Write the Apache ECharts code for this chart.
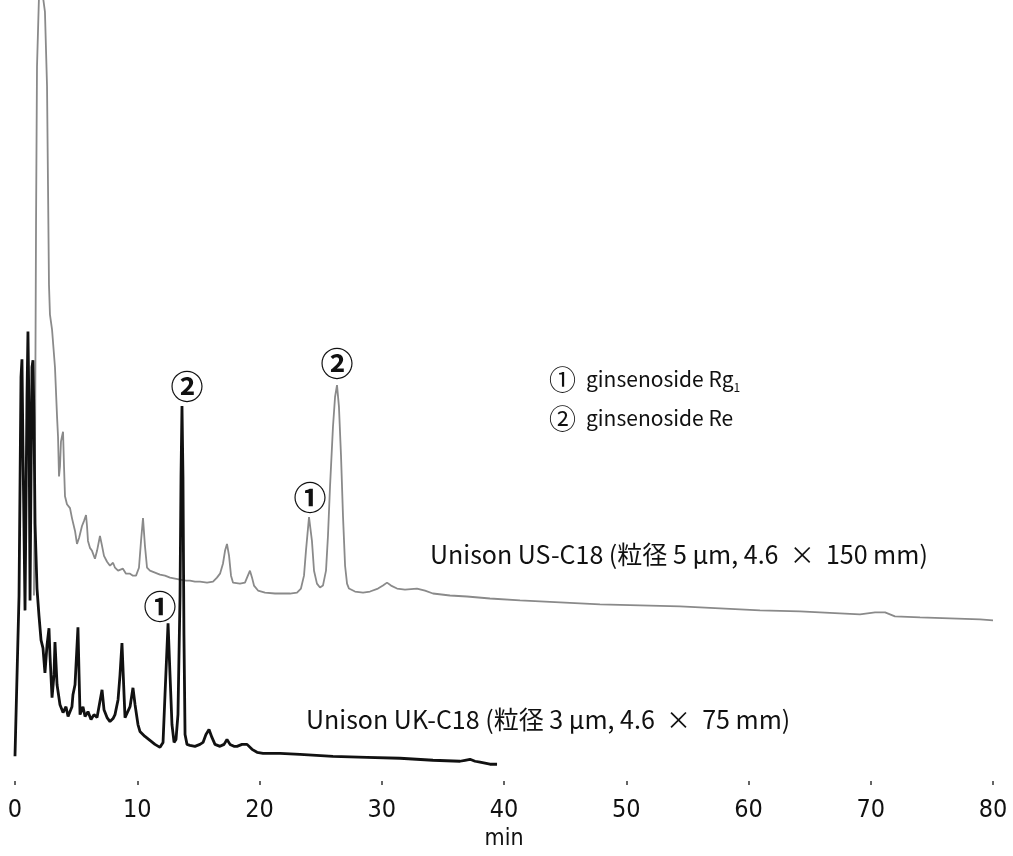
<!DOCTYPE html>
<html>
<head>
<meta charset="utf-8">
<script src="https://cdn.jsdelivr.net/npm/echarts@6/dist/echarts.min.js"></script>
<style>
html,body{margin:0;padding:0;background:#fff;}
#chart{width:1013px;height:856px;}
</style>
</head>
<body>
<div id="chart"></div>
<script>
// ---- data (time in min, signal in arbitrary units) ----
const xTicks = [0, 10, 20, 30, 40, 50, 60, 70, 80];

// Unison UK-C18 (black trace)
const ukTime = [0.00,0.16,0.33,0.49,0.57,0.65,0.82,0.98,1.06,1.15,1.23,1.31,1.39,1.47,1.55,1.64,1.72,1.80,1.96,2.13,2.29,2.45,2.62,2.78,2.86,3.03,3.19,3.27,3.44,3.68,3.93,4.17,4.34,4.50,4.66,4.74,4.91,5.15,5.24,5.32,5.56,5.73,5.97,6.22,6.46,6.71,6.87,7.12,7.28,7.53,7.77,8.02,8.18,8.43,8.59,8.75,8.92,9.00,9.16,9.41,9.65,9.82,10.06,10.22,10.63,11.04,11.45,11.86,12.11,12.27,12.52,12.68,12.84,13.01,13.17,13.33,13.50,13.58,13.66,13.74,13.82,13.91,14.07,14.31,14.72,15.13,15.38,15.62,15.87,16.11,16.36,16.77,17.10,17.34,17.59,17.91,18.16,18.57,18.98,19.39,19.80,20.29,21.68,23.31,26.01,28.79,31.49,34.19,36.40,36.81,37.22,37.63,38.04,38.85,39.43];
const ukSignal = [25,25,187,407,425,337,172,387,453,367,182,307,417,424,367,259,227,194,167,142,134,109,137,154,127,84,107,140,97,77,69,75,65,64,75,87,97,155,107,67,75,65,70,62,67,64,75,92,72,64,60,63,67,82,107,139,87,64,65,75,94,77,57,50,45,41,37,34,39,87,159,107,57,39,42,67,187,307,378,307,147,47,37,36,35,37,39,47,52,44,37,35,37,42,37,35,35,37,37,32,29,28,28,27,25,24,23,21,20,21,22,20,19,17,17];

// Unison US-C18 (grey trace)
const usTime = [1.55,1.64,1.72,1.80,1.96,2.13,2.29,2.45,2.62,2.70,2.78,2.86,3.03,3.27,3.44,3.52,3.60,3.68,3.76,3.84,3.93,4.01,4.09,4.25,4.50,4.66,4.91,5.07,5.24,5.48,5.64,5.81,5.89,5.97,6.13,6.30,6.54,6.71,6.95,7.12,7.28,7.53,7.77,8.02,8.18,8.43,8.59,8.83,9.08,9.41,9.65,9.90,10.14,10.31,10.47,10.63,10.80,11.04,11.45,11.86,12.27,12.68,13.09,13.50,13.99,14.31,14.72,15.13,15.71,16.20,16.52,16.77,17.01,17.18,17.34,17.51,17.67,17.83,18.40,18.81,18.98,19.22,19.39,19.55,19.88,20.45,21.27,22.49,23.07,23.39,23.64,23.80,24.05,24.29,24.46,24.70,24.95,25.19,25.44,25.60,25.77,26.01,26.18,26.34,26.50,26.67,26.83,27.00,27.16,27.32,27.81,28.47,29.04,29.69,30.10,30.43,30.76,31.25,31.90,32.88,33.54,34.19,35.58,36.97,38.85,41.31,44.58,47.85,51.12,54.40,57.67,60.94,64.21,67.48,69.12,70.35,71.17,71.98,74.03,76.48,78.94,80.00];
const usSignal = [187,330,560,720,790,800,790,775,700,600,500,470,455,417,367,347,307,317,342,347,352,317,287,279,275,265,252,239,245,257,262,268,257,242,235,232,224,232,247,237,227,221,217,220,215,212,213,214,209,209,207,207,215,242,265,237,215,212,210,208,207,205,204,203,202,202,201,201,200,201,205,209,219,232,239,227,207,200,199,200,205,212,205,197,192,190,189,189,190,194,207,232,266,242,212,199,195,197,212,247,297,357,387,399,377,327,267,217,199,194,191,190,191,194,197,200,197,194,193,194,192,189,187,186,184,182,180,178,177,176,174,172,171,169,168,170,170,166,165,164,163,162];

// peak identifications (retention time, label)
const peakMarks = ['\u2460', '\u2461'];
const ukPeakTimes = [12.52, 13.66];
const usPeakTimes = [24.05, 26.34];

const legendLines = ['ginsenoside Rg', 'ginsenoside Re'];
const ukName = 'Unison UK-C18 (粒径 3 μm, 4.6  ×  75 mm)';
const usName = 'Unison US-C18 (粒径 5 μm, 4.6  ×  150 mm)';
const xName = 'min';

// ---- build ----
function zip(t, s){ return t.map((v,i)=>[v, s[i]]); }
function peakPoint(t, s, time){ const i = t.indexOf(time); return [t[i], s[i]]; }

const CJK = '"Noto Sans CJK JP", "Noto Sans", sans-serif';
const NARROW = '"Liberation Sans Narrow", "DejaVu Sans Condensed", "Liberation Sans", sans-serif';

const markLabel = (offset) => ({
  show: true, position: 'inside', offset: offset, color: '#111',
  fontSize: 33, fontWeight: 'bold', fontFamily: CJK, formatter: (p) => p.name
});

const chart = echarts.init(document.getElementById('chart'), null, {renderer: 'canvas'});
chart.setOption({
  animation: false,
  backgroundColor: '#fff',
  grid: {left: 15, right: 20, top: 0, bottom: 69, containLabel: false},
  xAxis: {
    type: 'value', min: 0, max: 80, interval: 10,
    name: xName, nameLocation: 'middle', nameGap: 36,
    nameTextStyle: {fontSize: 23, fontFamily: NARROW, color: '#111'},
    axisLine: {show: false},
    axisTick: {show: true, length: 4, lineStyle: {color: '#333', width: 1.5}},
    axisLabel: {margin: 17, fontSize: 25, fontFamily: NARROW, color: '#111',
      formatter: (v) => xTicks.includes(v) ? String(v) : ''},
    splitLine: {show: false}
  },
  yAxis: {type: 'value', min: 0, max: 787, show: false, splitLine: {show: false}},
  series: [
    {
      name: 'US-C18', type: 'line', data: zip(usTime, usSignal), clip: true,
      showSymbol: false, symbol: 'none', smooth: false,
      lineStyle: {color: '#8a8a8a', width: 1.8},
      markPoint: {
        symbol: 'circle', symbolSize: 1, itemStyle: {color: 'rgba(0,0,0,0)'},
        data: [
          {name: peakMarks[0], coord: peakPoint(usTime, usSignal, usPeakTimes[0]), label: markLabel([1, -20])},
          {name: peakMarks[1], coord: peakPoint(usTime, usSignal, usPeakTimes[1]), label: markLabel([0, -22])}
        ]
      }
    },
    {
      name: 'UK-C18', type: 'line', data: zip(ukTime, ukSignal), clip: true,
      showSymbol: false, symbol: 'none', smooth: false,
      lineStyle: {color: '#111', width: 2.8},
      markPoint: {
        symbol: 'circle', symbolSize: 1, itemStyle: {color: 'rgba(0,0,0,0)'},
        data: [
          {name: peakMarks[0], coord: peakPoint(ukTime, ukSignal, ukPeakTimes[0]), label: markLabel([-8, -17])},
          {name: peakMarks[1], coord: peakPoint(ukTime, ukSignal, ukPeakTimes[1]), label: markLabel([5, -19])}
        ]
      }
    }
  ],
  graphic: [
    {type: 'text', left: 549, top: 366, style: {
      text: '{m|' + peakMarks[0] + '}   {t|' + legendLines[0] + '}{s|1}',
      rich: {
        m: {fontSize: 27, fontFamily: CJK, fill: '#111'},
        t: {fontSize: 21, fontFamily: CJK, fill: '#111'},
        s: {fontSize: 12, fontFamily: CJK, fill: '#111', verticalAlign: 'bottom', padding: [10, 0, 0, 0]}
      }}},
    {type: 'text', left: 549, top: 405, style: {
      text: '{m|' + peakMarks[1] + '}   {t|' + legendLines[1] + '}',
      rich: {
        m: {fontSize: 27, fontFamily: CJK, fill: '#111'},
        t: {fontSize: 21, fontFamily: CJK, fill: '#111'}
      }}},
    {type: 'text', left: 430, top: 542, style: {text: usName, fontSize: 25, fontFamily: CJK, fill: '#111'}},
    {type: 'text', left: 306, top: 707, style: {text: ukName, fontSize: 25, fontFamily: CJK, fill: '#111'}}
  ]
});
</script>
</body>
</html>
